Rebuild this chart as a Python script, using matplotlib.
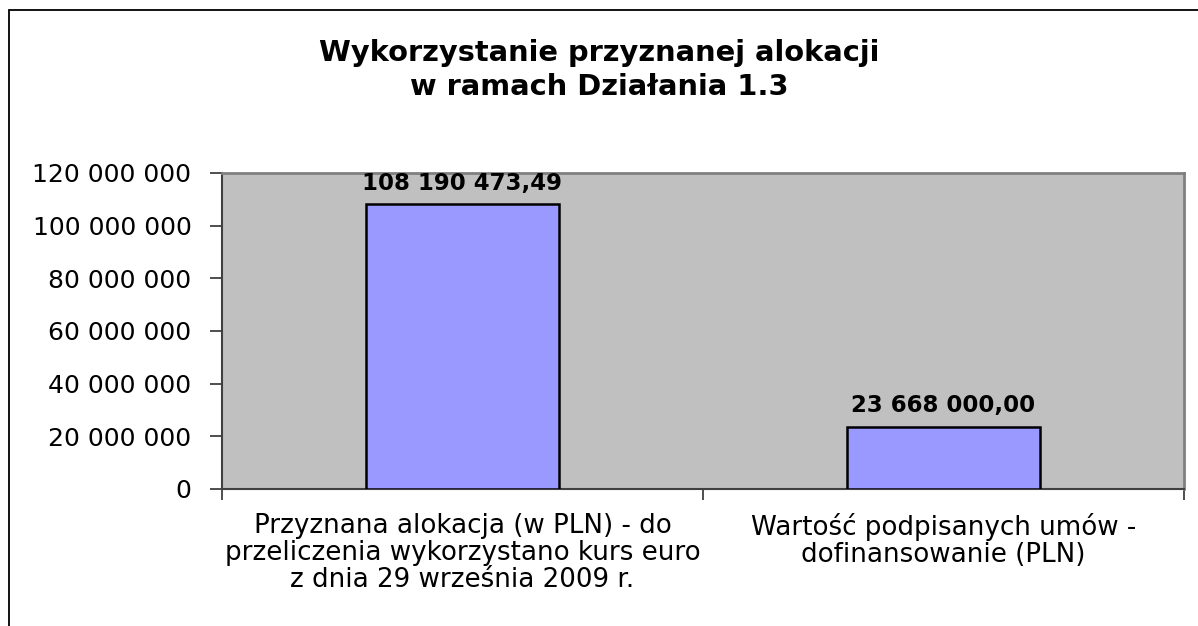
import matplotlib.pyplot as plt
from matplotlib.patches import Rectangle

plt.rcParams['font.family'] = ['DejaVu Sans']

# data
categories = ['Przyznana alokacja (w PLN) - do\nprzeliczenia wykorzystano kurs euro\nz dnia 29 września 2009 r.',
              'Wartość podpisanych umów -\ndofinansowanie (PLN)']
values = [108190473.49, 23668000.00]
value_labels = ['108 190 473,49', '23 668 000,00']
yticks = [0, 20000000, 40000000, 60000000, 80000000, 100000000, 120000000]
title = 'Wykorzystanie przyznanej alokacji\nw ramach Działania 1.3'


def fmt(v):
    return '{:,}'.format(int(v)).replace(',', ' ')


def main():
    fig = plt.figure(figsize=(11.98, 6.26), dpi=100)
    ax = fig.add_axes([222/1198, 1-489/626, (1184-222)/1198, (489-173)/626])

    # outer frame of the chart
    fig.patches.append(Rectangle((9/1198, -0.05), 1.05, 1.05-10/626,
                                 transform=fig.transFigure, fill=False,
                                 edgecolor='black', linewidth=1.3))

    ax.set_facecolor('#C0C0C0')
    x = [0, 1]
    ax.bar(x, values, width=0.4, color='#9999FF', edgecolor='black',
           linewidth=1.8, zorder=3)
    ax.set_xlim(-0.5, 1.5)
    ax.set_ylim(0, 120000000)

    ax.set_yticks(yticks)
    ax.set_yticklabels([fmt(v) for v in yticks], fontsize=18)
    ax.tick_params(axis='y', length=9, width=1.3, color='#404040', pad=13)

    # category ticks on boundaries, labels at centres
    ax.set_xticks([-0.5, 0.5, 1.5])
    ax.set_xticklabels([])
    ax.tick_params(axis='x', length=8, width=1.3, color='#404040')
    for xi, lab in zip(x, categories):
        ax.text(xi, -0.075, lab, transform=ax.get_xaxis_transform(),
                ha='center', va='top', fontsize=18.8, linespacing=1.05)

    for s in ['top', 'right']:
        ax.spines[s].set_color('#808080')
        ax.spines[s].set_linewidth(2)
    for s in ['left', 'bottom']:
        ax.spines[s].set_color('#404040')
        ax.spines[s].set_linewidth(1.5)

    for xi, v, lab in zip(x, values, value_labels):
        ax.annotate(lab, (xi, v), xytext=(0, 15), textcoords='offset points',
                    ha='center', va='center', fontsize=16.5, fontweight='bold',
                    zorder=5, annotation_clip=False)

    fig.text(0.5, 1-70/626, title, ha='center', va='center', fontsize=20.8,
             fontweight='bold', linespacing=1.3)

    fig.savefig('out.png', dpi=100)


if __name__ == '__main__':
    main()
